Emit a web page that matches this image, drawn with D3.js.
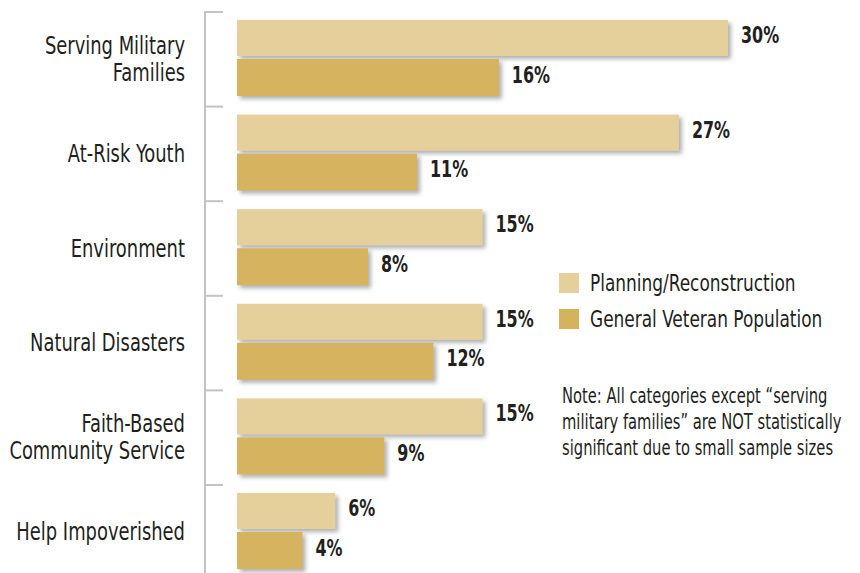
<!DOCTYPE html>
<meta charset="utf-8">
<style>
    body { margin: 0; background: #fff; }
    text { font-family: "DejaVu Sans Condensed", "Liberation Sans Narrow", sans-serif; fill: #231f20; }
    .cat { font-size: 24px; text-anchor: end; }
    .val { font-size: 23px; font-weight: bold; }
    .legend text { font-size: 23px; }
    .note { font-size: 21px; }
    .axis-line { stroke: #c3c3c6; stroke-width: 2px; fill: none; }
</style>
<svg id="svg" width="860" height="573"></svg>
<script src="https://d3js.org/d3.v7.min.js"></script>
<script>

var categories = [
    ["Serving Military", "Families"],
    ["At-Risk Youth"],
    ["Environment"],
    ["Natural Disasters"],
    ["Faith-Based", "Community Service"],
    ["Help Impoverished"]
];
var planning = [30, 27, 15, 15, 15, 6];
var veteran = [16, 11, 8, 12, 9, 4];
var seriesNames = ["Planning/Reconstruction", "General Veteran Population"];
var noteLines = [
    "Note: All categories except \u201Cserving",
    "military families\u201D are NOT statistically",
    "significant due to small sample sizes"
];

var colors = ["#e5cf9b", "#d5b35e"];

var svg = d3.select("#svg");

// condensed look: squeeze text horizontally
function place(sel, fx, fy, sx) {
    return sel.attr("transform", function(d, i) {
        return "translate(" + fx(d, i) + "," + fy(d, i) + ") scale(" + sx + ",1)";
    });
}

var defs = svg.append("defs");
var f = defs.append("filter").attr("id", "shadow")
    .attr("x", "-5%").attr("y", "-20%").attr("width", "115%").attr("height", "160%");
f.append("feDropShadow").attr("dx", 3).attr("dy", 3).attr("stdDeviation", 2)
    .attr("flood-color", "#6d6e71").attr("flood-opacity", 0.55);

var x = d3.scaleLinear().domain([0, 30]).range([237, 728]);
var y = d3.scaleBand().domain(d3.range(categories.length)).range([12, 12 + 94.6 * categories.length]);

// axis line with ticks at band boundaries
svg.append("line").attr("class", "axis-line")
    .attr("x1", 205).attr("x2", 205).attr("y1", 12).attr("y2", 573);
svg.selectAll(".tick-line").data(d3.range(categories.length)).enter().append("line")
    .attr("class", "axis-line")
    .attr("x1", 204).attr("x2", 223)
    .attr("y1", function(d) { return y(d); })
    .attr("y2", function(d) { return y(d); });

var groups = svg.selectAll(".cat-g").data(categories).enter().append("g")
    .attr("transform", function(d, i) { return "translate(0," + y(i) + ")"; });

// category labels
groups.each(function(lines, i) {
    var g = d3.select(this);
    var mid = 47;
    var lh = 27;
    var t = g.selectAll("text").data(lines).enter().append("text")
        .attr("class", "cat")
        .attr("dy", "0.35em")
        .text(function(d) { return d; });
    place(t, function() { return 185; },
        function(d, j) { return mid + (j - (lines.length - 1) / 2) * lh; }, 0.83);
});

var barSpecs = [
    {values: planning, top: 8, h: 36, color: colors[0]},
    {values: veteran, top: 47, h: 37, color: colors[1]}
];

barSpecs.forEach(function(s) {
    groups.append("rect")
        .attr("x", x(0))
        .attr("y", s.top)
        .attr("width", function(d, i) { return x(s.values[i]) - x(0); })
        .attr("height", s.h)
        .attr("fill", s.color)
        .attr("filter", "url(#shadow)");
    var t = groups.append("text").attr("class", "val")
        .attr("dy", "0.35em")
        .text(function(d, i) { return s.values[i] + "%"; });
    place(t, function(d, i) { return x(s.values[i]) + 13; },
        function() { return s.top + s.h / 2 - 3; }, 0.77);
});

// legend
var legend = svg.append("g").attr("class", "legend").attr("transform", "translate(559,273)");
var li = legend.selectAll("g").data(seriesNames).enter().append("g")
    .attr("transform", function(d, i) { return "translate(0," + i * 36 + ")"; });
li.append("rect").attr("width", 20).attr("height", 20)
    .attr("fill", function(d, i) { return colors[i]; });
place(li.append("text").attr("dy", "0.35em").text(function(d) { return d; }),
    function() { return 31; }, function() { return 10; }, 0.82);

// note
var note = svg.append("g").selectAll("text").data(noteLines).enter().append("text")
    .attr("class", "note")
    .attr("dy", "0.35em")
    .text(function(d) { return d; });
place(note, function() { return 562; }, function(d, i) { return 396 + i * 26; }, 0.78);

</script>
